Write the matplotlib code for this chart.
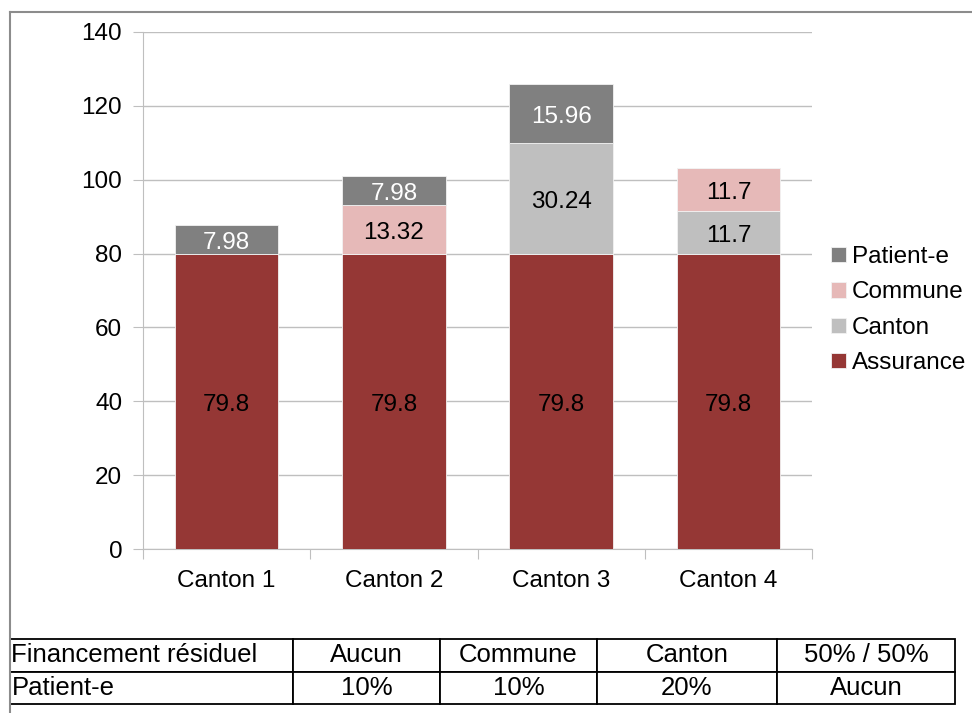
import matplotlib
matplotlib.use("Agg")
from matplotlib import pyplot as plt
from matplotlib.lines import Line2D
import numpy as np

plt.rcParams['font.family'] = ['Liberation Sans', 'DejaVu Sans']

# data
cantons = ["Canton 1", "Canton 2", "Canton 3", "Canton 4"]
assurance = [79.8, 79.8, 79.8, 79.8]
canton = [0, 0, 30.24, 11.7]
commune = [0, 13.32, 0, 11.7]
patient = [7.98, 7.98, 15.96, 0]

series_names = ["Assurance", "Canton", "Commune", "Patient-e"]
series_colors = ["#953735", "#BFBFBF", "#E6B9B8", "#808080"]
label_colors = ["black", "black", "black", "white"]

table_rows = ["Financement résiduel", "Patient-e"]
table_residuel = ["Aucun", "Commune", "Canton", "50% / 50%"]
table_patient = ["10%", "10%", "20%", "Aucun"]

W, H = 972, 713
fig = plt.figure(figsize=(W / 100, H / 100), dpi=100)

# chart frame (gray lines top and left)
fig.add_artist(Line2D([10 / W, 1.0], [1 - 12 / H, 1 - 12 / H], color="#8C8C8C", lw=1.5))
fig.add_artist(Line2D([10 / W, 10 / W], [1 - 12 / H, 0.0], color="#8C8C8C", lw=1.5))

ax = fig.add_axes([143 / W, 1 - 549 / H, (812 - 143) / W, (549 - 32) / H])
x = np.arange(len(cantons)) + 0.5
bottom = np.zeros(len(cantons))
bars = []
for vals, name, col, lc in zip([assurance, canton, commune, patient],
                               series_names, series_colors, label_colors):
    b = ax.bar(x, vals, width=0.62, bottom=bottom, color=col, label=name,
               edgecolor="#F2F2F2", linewidth=0.6, zorder=3)
    bars.append(b)
    for xi, v, bt in zip(x, vals, bottom):
        if v > 0:
            ax.annotate(f"{v:g}", (xi, bt + v / 2), xytext=(0, -2.5),
                        textcoords="offset points", ha="center", va="center",
                        fontsize=17.5, color=lc, zorder=4)
    bottom += np.array(vals)

ax.set_xlim(0, 4)
ax.set_ylim(0, 140)
ax.set_yticks(np.arange(0, 141, 20))
ax.yaxis.grid(True, color="#BFBFBF", lw=1, zorder=0)
ax.set_xticks([0, 1, 2, 3, 4])
ax.set_xticklabels([])
ax.set_xticks(x, minor=True)
ax.set_xticklabels(cantons, minor=True)
ax.tick_params(axis="x", which="minor", length=0, pad=15, labelsize=17.5)
ax.tick_params(axis="x", which="major", length=7, color="#BFBFBF")
ax.tick_params(axis="y", length=7, color="#BFBFBF", labelsize=17.5, pad=8)
for s in ["top", "right"]:
    ax.spines[s].set_visible(False)
for s in ["left", "bottom"]:
    ax.spines[s].set_color("#BFBFBF")

# legend, top to bottom like the stack
handles = [bars[3], bars[2], bars[1], bars[0]]
ax.legend(handles, [series_names[3], series_names[2], series_names[1], series_names[0]],
          loc="center left", bbox_to_anchor=(1.0, 0.462), frameon=False, fontsize=17.5,
          handlelength=0.6, handleheight=0.6, handletextpad=0.25, labelspacing=0.55,
          borderaxespad=0.6, borderpad=0.2)

# table below
tax = fig.add_axes([10 / W, 1 - 704 / H, (955 - 10) / W, (704 - 639) / H])
tax.axis("off")
cells = [[table_rows[0]] + table_residuel, [table_rows[1]] + table_patient]
widths = np.array([283, 147, 157, 180, 178], dtype=float)
tbl = tax.table(cellText=cells, colWidths=list(widths / widths.sum()),
                bbox=[0, 0, 1, 1], cellLoc="center")
tbl.auto_set_font_size(False)
for (r, c), cell in tbl.get_celld().items():
    cell.set_edgecolor("black")
    cell.set_linewidth(1.3)
    cell.get_text().set_fontsize(18.5)
    if c == 0:
        cell.get_text().set_ha("left")
        cell._loc = "left"
        cell.PAD = 0.005

fig.savefig("out.png", dpi=100)
